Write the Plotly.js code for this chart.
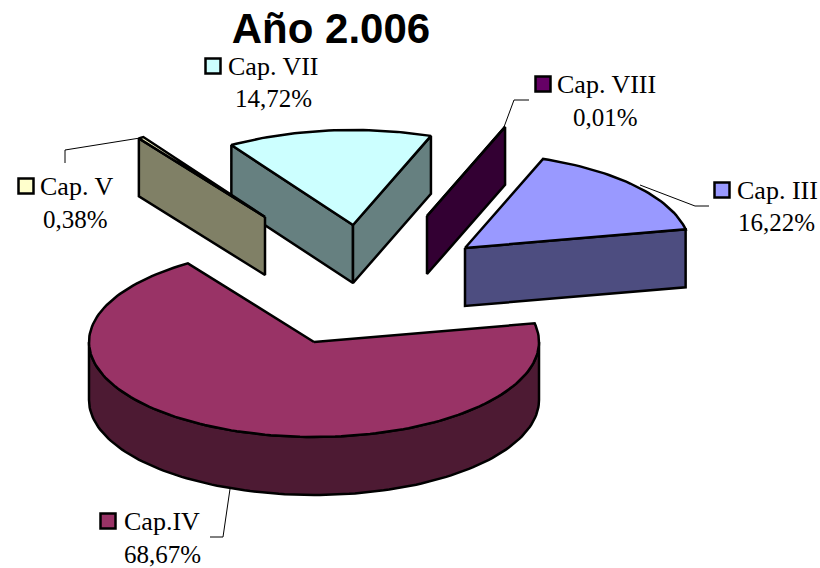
<!DOCTYPE html>
<html>
<head>
<meta charset="utf-8">
<script src="https://cdn.plot.ly/plotly-3.0.1.min.js"></script>
<style>html,body{margin:0;padding:0;background:#fff}#c{width:820px;height:568px}</style>
</head>
<body>
<div id="c"></div>
<script>
// Data, in pie order (clockwise)
const categories = ['Cap. III', 'Cap.IV', 'Cap. V', 'Cap. VII', 'Cap. VIII'];
const values = [16.22, 68.67, 0.38, 14.72, 0.01];
const valueLabels = ['16,22%', '68,67%', '0,38%', '14,72%', '0,01%'];

// Styles
const topColors = ['#9999FF', '#993366', '#FFFFCC', '#CCFFFF', '#660066'];
const sideColors = ['#4D4D80', '#4D1A33', '#808066', '#668080', '#330033'];

// Projection of the exploded 3D pie
const firstAngle = -69.7;
const rx = 225, ry = 95, depth = 58;
const apexX = [465, 314, 265, 353, 427];
const apexY = [248, 342, 217, 225, 216];
const drawOrder = [3, 2, 4, 0, 1];

// Label placement
const keyX = [722, 108, 26, 213, 543];
const keyY = [190, 521, 186, 66, 84];
const nameX = [737, 124, 40, 228, 557];
const valueX = [776, 162, 75, 273, 605];
const valueY = [222, 554, 219, 98, 117];
const leaderX = [[709, 695, 640], [210, 223, 230], [65, 65, 140], [], [529, 514, 504]];
const leaderY = [[206, 206, 185], [537, 537, 489], [163, 150, 138], [], [100, 100, 127]];

const rad = d => d * Math.PI / 180;
const traces = [];
function poly(xs, ys, fill) {
  traces.push({type: 'scatter', mode: 'lines', x: xs.concat(xs[0]), y: ys.concat(ys[0]),
    fill: 'toself', fillcolor: fill, line: {color: '#000', width: 2.5, shape: 'linear'},
    hoverinfo: 'skip', showlegend: false});
}
function arc(i, a, b) {
  const n = Math.max(2, Math.ceil(Math.abs(b - a) / 1.5));
  const xs = [], ys = [];
  for (let k = 0; k <= n; k++) {
    const t = rad(a + (b - a) * k / n);
    xs.push(apexX[i] + rx * Math.cos(t));
    ys.push(apexY[i] + ry * Math.sin(t));
  }
  return {xs, ys};
}
const total = values.reduce((s, v) => s + v, 0);
const starts = [], ends = [];
let acc = firstAngle;
values.forEach((v, i) => { starts[i] = acc; acc += v / total * 360; ends[i] = acc; });

drawOrder.forEach(i => {
  const a = starts[i], b = ends[i];
  const cx = apexX[i], cy = apexY[i];
  const wall = t => {
    const px = cx + rx * Math.cos(rad(t)), py = cy + ry * Math.sin(rad(t));
    poly([cx, px, px, cx], [cy, py, py + depth, cy + depth], sideColors[i]);
  };
  if (Math.cos(rad(a)) < 0) wall(a);
  if (Math.cos(rad(b)) > 0) wall(b);
  // outer rim: only the front half of the ellipse can be seen
  for (const off of [0, 360]) {
    const lo = Math.max(a, off), hi = Math.min(b, off + 180);
    if (hi > lo) {
      const r = arc(i, lo, hi);
      poly(r.xs.concat(r.xs.slice().reverse()),
           r.ys.concat(r.ys.slice().reverse().map(y => y + depth)), sideColors[i]);
    }
  }
  const top = arc(i, a, b);
  poly([cx].concat(top.xs), [cy].concat(top.ys), topColors[i]);
});

leaderX.forEach((xs, i) => {
  if (xs.length) traces.push({type: 'scatter', mode: 'lines', x: xs, y: leaderY[i],
    line: {color: '#000', width: 1}, hoverinfo: 'skip', showlegend: false});
});
traces.push({type: 'scatter', mode: 'markers', x: keyX, y: keyY, hoverinfo: 'skip', showlegend: false,
  marker: {symbol: 'square', size: 15, color: topColors, line: {color: '#000', width: 2.5}}});

const nameFont = {family: '"Liberation Serif", serif', size: 26, color: '#000'};
const valueFont = {family: '"Liberation Serif", serif', size: 25, color: '#000'};
const annotations = [];
categories.forEach((c, i) => {
  annotations.push({x: nameX[i], y: keyY[i], xref: 'x', yref: 'y', text: c, showarrow: false,
    xanchor: 'left', yanchor: 'middle', font: nameFont, xshift: -2});
  annotations.push({x: valueX[i], y: valueY[i], xref: 'x', yref: 'y', text: valueLabels[i], showarrow: false,
    xanchor: 'center', yanchor: 'middle', font: valueFont});
});

Plotly.newPlot('c', traces, {
  width: 820, height: 568,
  margin: {l: 0, r: 0, t: 0, b: 0},
  paper_bgcolor: '#fff', plot_bgcolor: '#fff',
  showlegend: false,
  title: {text: '<b>Año 2.006</b>', x: 331 / 820, xanchor: 'center', y: 1 - 28 / 568, yanchor: 'middle',
    font: {family: '"Liberation Sans", Arial, sans-serif', size: 42, color: '#000'}},
  xaxis: {range: [0, 820], visible: false, fixedrange: true},
  yaxis: {range: [568, 0], visible: false, fixedrange: true},
  annotations
}, {displayModeBar: false, staticPlot: true});
</script>
</body>
</html>
